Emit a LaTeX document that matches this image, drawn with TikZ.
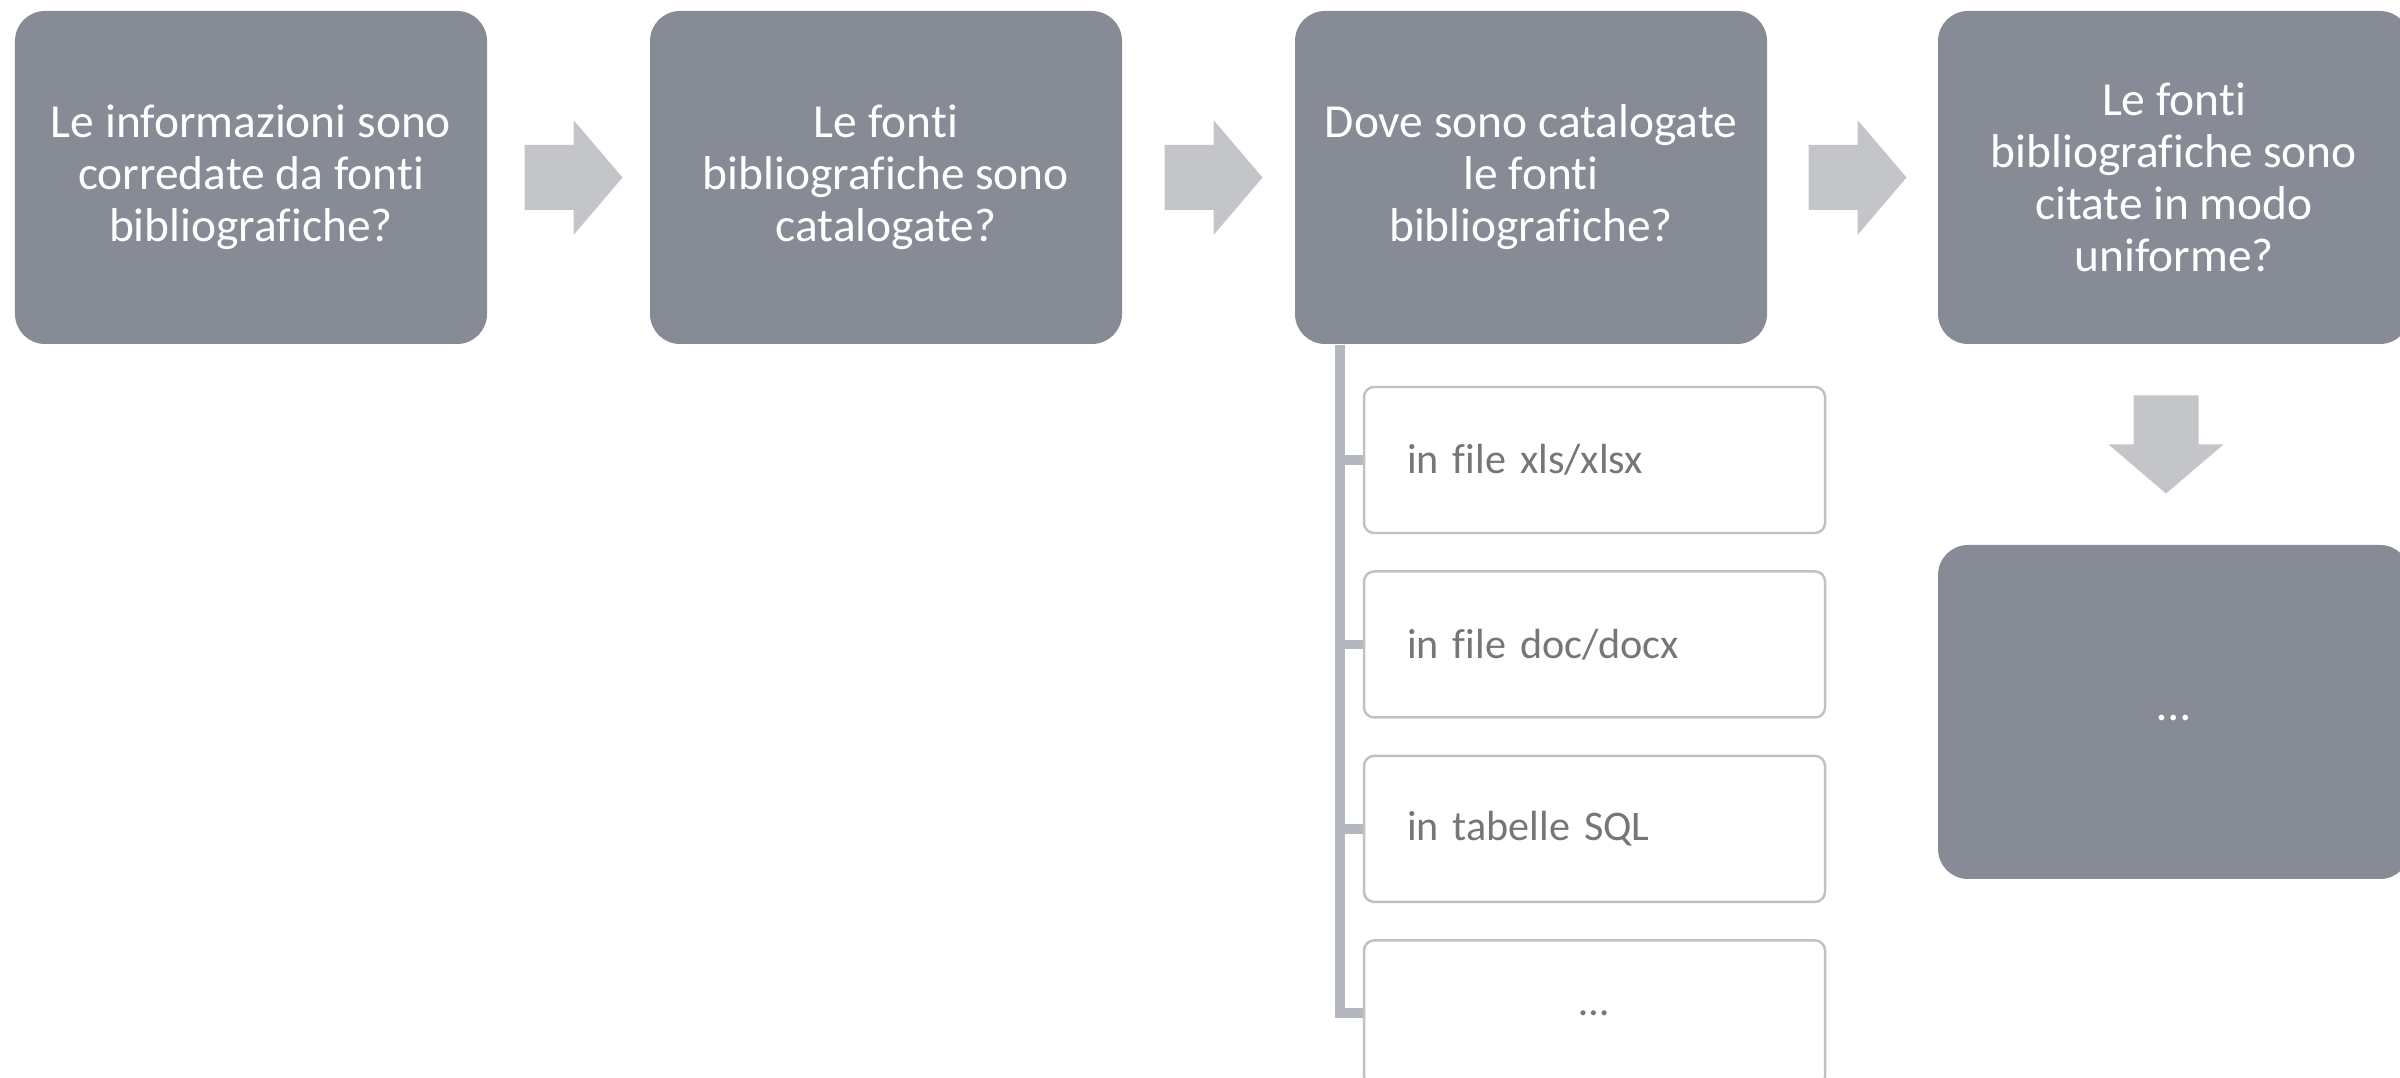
\documentclass[tikz,border=0pt]{standalone}
\usepackage{fontspec}
\setmainfont{Carlito}[Ligatures=NoCommon]
\usepackage{tikz}
\usetikzlibrary{positioning, calc}
\definecolor{boxgray}{RGB}{134,139,149}
\definecolor{arrowgray}{RGB}{196,197,200}
\definecolor{linegray}{RGB}{180,183,189}
\definecolor{framegray}{RGB}{191,193,197}
\definecolor{textgray}{RGB}{118,118,118}

\begin{document}
\begin{tikzpicture}[
  q/.style={fill=boxgray, rounded corners=3mm, minimum width=4.72cm, minimum height=3.33cm,
    text=white, align=center, font=\fontsize{13.5}{14.8}\selectfont},
  opt/.style={draw=framegray, line width=0.7pt, rounded corners=1mm, fill=white,
    minimum height=1.46cm, text width=3.75cm, inner xsep=0.43cm, align=left,
    text=textgray, font=\fontsize{12}{14}\selectfont},
  tree/.style={draw=linegray, line width=2.8pt},
  rarr/.pic={\fill[arrowgray] (-0.49,0.325) -- (0,0.325) -- (0,0.575) -- (0.49,0)
    -- (0,-0.575) -- (0,-0.325) -- (-0.49,-0.325) -- cycle;}]
\useasboundingbox (0,0) rectangle (24,-10.78);
% question boxes
\node[q] (q1) at (2.51,-1.775) {Le informazioni sono\\corredate da fonti\\bibliografiche?};
\node[q] (q2) at (8.86,-1.775) {Le fonti\\bibliografiche sono\\catalogate?};
\node[q] (q3) at (15.31,-1.775) {Dove sono catalogate\\le fonti\\bibliografiche?};
\node[q] (q4) at (21.74,-1.775) {Le fonti\\bibliografiche sono\\citate in modo\\uniforme?};
\node[q, minimum height=3.34cm] (q5) at (21.74,-7.12) {\smash{\raisebox{-0.9mm}{…}}};
% block arrows
\pic at ($(q1.east)!0.5!(q2.west)+(0.05,0)$) {rarr};
\pic at ($(q2.east)!0.5!(q3.west)+(0.05,0)$) {rarr};
\pic at ($(q3.east)!0.5!(q4.west)+(0.05,0)$) {rarr};
\pic[rotate=-90] at ($(q4.south)!0.5!(q5.north)+(-0.08,0)$) {rarr};
% where they are kept
\node[opt] (s1) at (15.945,-4.60) {in file xls/xlsx};
\node[opt, below=0.36cm of s1] (s2) {in file doc/docx};
\node[opt, below=0.36cm of s2] (s3) {in tabelle SQL};
\node[opt, below=0.36cm of s3, align=center] (s4) {…};
\coordinate (trunk) at ($(q3.south west)+(0.46,0)$);
\foreach \s in {s1,s2,s3,s4}
  \draw[tree] (trunk) |- (\s.west);
\end{tikzpicture}
\end{document}
